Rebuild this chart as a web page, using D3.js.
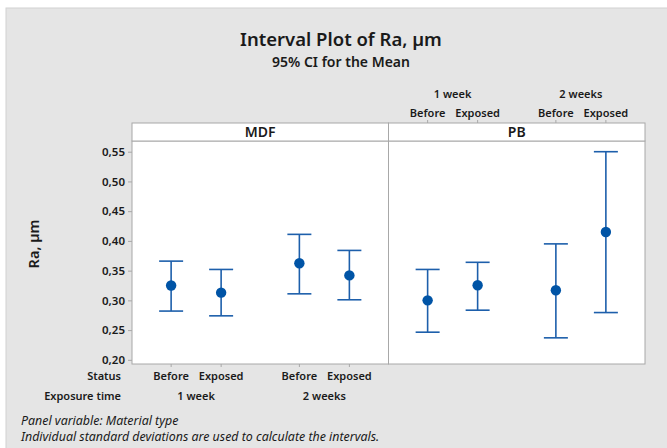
<!DOCTYPE html>
<html>
<head>
<meta charset="utf-8">
<script src="https://cdn.jsdelivr.net/npm/d3@7"></script>
<style>
body { margin: 0; background: #fff; }
svg { display: block; font-family: "Noto Sans", "Open Sans", sans-serif; }
</style>
</head>
<body>
<svg class="canvas"></svg>
<script>
// data
var panels = ["MDF", "PB"];
var times = ["1 week", "2 weeks"];
var statuses = ["Before", "Exposed"];

// order: 1 week Before, 1 week Exposed, 2 weeks Before, 2 weeks Exposed
var mdfMean  = [0.325, 0.313, 0.3625, 0.342];
var mdfLower = [0.282, 0.274, 0.311, 0.301];
var mdfUpper = [0.366, 0.352, 0.411, 0.384];
var pbMean   = [0.300, 0.3255, 0.317, 0.415];
var pbLower  = [0.2465, 0.2835, 0.237, 0.2795];
var pbUpper  = [0.352, 0.364, 0.395, 0.550];

var yTicks = [0.20, 0.25, 0.30, 0.35, 0.40, 0.45, 0.50, 0.55];

var width = 667,
	height = 448;

var PLOT_L = 132, PLOT_R = 645;
var STRIP_T = 123, PLOT_T = 141, PLOT_B = 364;
var CAP = 12;
var BLUE = "#0054a6", LINE = "#1d5fab", FRAME = "#a8a8a8", INK = "#1a1a1a";

var canvas = d3.select(".canvas")
	.attr("width", width)
	.attr("height", height);

// grey figure background
canvas.append("rect")
	.attr("x", 6).attr("y", 8)
	.attr("width", width).attr("height", height)
	.attr("fill", "#e5e5e5")
	.attr("stroke", "#d2d2d2");

// titles
canvas.append("text")
	.attr("x", 341).attr("y", 46)
	.attr("text-anchor", "middle")
	.attr("font-size", 18.5).attr("font-weight", 600)
	.attr("fill", INK)
	.text("Interval Plot of Ra, µm");

canvas.append("text")
	.attr("x", 341).attr("y", 66.5)
	.attr("text-anchor", "middle")
	.attr("font-size", 14).attr("font-weight", 600)
	.attr("fill", INK)
	.text("95% CI for the Mean");

var y = d3.scaleLinear().domain([0.193, 0.568]).range([PLOT_B, PLOT_T]);
var xPanel = d3.scaleBand().domain(panels).range([PLOT_L, PLOT_R]);
var xTime = d3.scalePoint().domain(times).range([0, xPanel.bandwidth()]).padding(0.5);
var xStatus = d3.scalePoint().domain(statuses).range([-25, 25]);

function rows(mean, lower, upper) {
	var out = [];
	times.forEach(function(t, i) {
		statuses.forEach(function(s, j) {
			var k = i * 2 + j;
			out.push({ time: t, status: s, mean: mean[k], lower: lower[k], upper: upper[k] });
		});
	});
	return out;
}
var panelData = [
	{ name: "MDF", rows: rows(mdfMean, mdfLower, mdfUpper) },
	{ name: "PB", rows: rows(pbMean, pbLower, pbUpper) }
];

function xPos(d) { return xTime(d.time) + xStatus(d.status); }

// panels
var panel = canvas.selectAll("g.panel").data(panelData)
	.enter().append("g")
	.attr("class", "panel")
	.attr("transform", function(d) { return "translate(" + xPanel(d.name) + ",0)"; });

panel.append("rect")
	.attr("y", PLOT_T)
	.attr("width", xPanel.bandwidth())
	.attr("height", PLOT_B - PLOT_T)
	.attr("fill", "#fff")
	.attr("stroke", FRAME);

panel.append("rect")
	.attr("y", STRIP_T)
	.attr("width", xPanel.bandwidth())
	.attr("height", PLOT_T - STRIP_T)
	.attr("fill", "#fff")
	.attr("stroke", FRAME);

panel.append("text")
	.attr("x", xPanel.bandwidth() / 2)
	.attr("y", 137)
	.attr("text-anchor", "middle")
	.attr("font-size", 14).attr("font-weight", 600)
	.attr("fill", INK)
	.text(function(d) { return d.name; });

var bars = panel.selectAll("g.ci").data(function(d) { return d.rows; })
	.enter().append("g")
	.attr("class", "ci");

bars.append("line")
	.attr("x1", xPos).attr("x2", xPos)
	.attr("y1", function(d) { return y(d.lower); })
	.attr("y2", function(d) { return y(d.upper); })
	.attr("stroke", LINE).attr("stroke-width", 1.6);

["lower", "upper"].forEach(function(key) {
	bars.append("line")
		.attr("x1", function(d) { return xPos(d) - CAP; })
		.attr("x2", function(d) { return xPos(d) + CAP; })
		.attr("y1", function(d) { return y(d[key]); })
		.attr("y2", function(d) { return y(d[key]); })
		.attr("stroke", LINE).attr("stroke-width", 1.6);
});

bars.append("circle")
	.attr("cx", xPos)
	.attr("cy", function(d) { return y(d.mean); })
	.attr("r", 5.2)
	.attr("fill", BLUE);

// y axis
var fmt = function(v) { return d3.format(".2f")(v).replace(".", ","); };
var yAxis = canvas.append("g")
	.attr("transform", "translate(" + PLOT_L + ",0)")
	.call(d3.axisLeft(y).tickValues(yTicks).tickFormat(fmt).tickSize(4).tickPadding(3));
yAxis.select(".domain").remove();
yAxis.selectAll("line").attr("stroke", FRAME);
yAxis.selectAll("text")
	.attr("font-size", 11.5).attr("font-weight", 600)
	.attr("font-family", "Noto Sans, sans-serif")
	.attr("fill", INK);

canvas.append("text")
	.attr("transform", "translate(39,244) rotate(-90)")
	.attr("text-anchor", "middle")
	.attr("font-size", 14.5).attr("font-weight", 600)
	.attr("fill", INK)
	.text("Ra, µm");

// category labels: bottom under the first panel, top over the last one
var combos = panelData[0].rows;

function catAxis(px, tickY1, tickY2, statusY, timeY) {
	var g = canvas.append("g").attr("transform", "translate(" + px + ",0)");
	g.selectAll("line").data(combos).enter().append("line")
		.attr("x1", xPos).attr("x2", xPos)
		.attr("y1", tickY1).attr("y2", tickY2)
		.attr("stroke", FRAME);
	g.selectAll("text.st").data(combos).enter().append("text")
		.attr("class", "st")
		.attr("x", xPos).attr("y", statusY)
		.attr("text-anchor", "middle")
		.attr("font-size", 11).attr("font-weight", 600)
		.attr("fill", INK)
		.text(function(d) { return d.status; });
	g.selectAll("text.tm").data(times).enter().append("text")
		.attr("class", "tm")
		.attr("x", function(d) { return xTime(d); }).attr("y", timeY)
		.attr("text-anchor", "middle")
		.attr("font-size", 11).attr("font-weight", 600)
		.attr("fill", INK)
		.text(function(d) { return d; });
}
catAxis(xPanel(panels[0]), PLOT_B, PLOT_B + 3, 380, 399.5);
catAxis(xPanel(panels[1]), STRIP_T - 3, STRIP_T, 116.5, 97.5);

canvas.append("text")
	.attr("x", 121).attr("y", 380)
	.attr("text-anchor", "end")
	.attr("font-size", 11).attr("font-weight", 600)
	.attr("fill", INK)
	.text("Status");
canvas.append("text")
	.attr("x", 121).attr("y", 399.5)
	.attr("text-anchor", "end")
	.attr("font-size", 11).attr("font-weight", 600)
	.attr("fill", INK)
	.text("Exposure time");

// footnotes
canvas.append("text")
	.attr("x", 21).attr("y", 425)
	.attr("font-size", 12.4).attr("font-style", "italic")
	.attr("fill", INK)
	.text("Panel variable: Material type");
canvas.append("text")
	.attr("x", 21).attr("y", 441)
	.attr("font-size", 12.4).attr("font-style", "italic")
	.attr("fill", INK)
	.text("Individual standard deviations are used to calculate the intervals.");
</script>
</body>
</html>
